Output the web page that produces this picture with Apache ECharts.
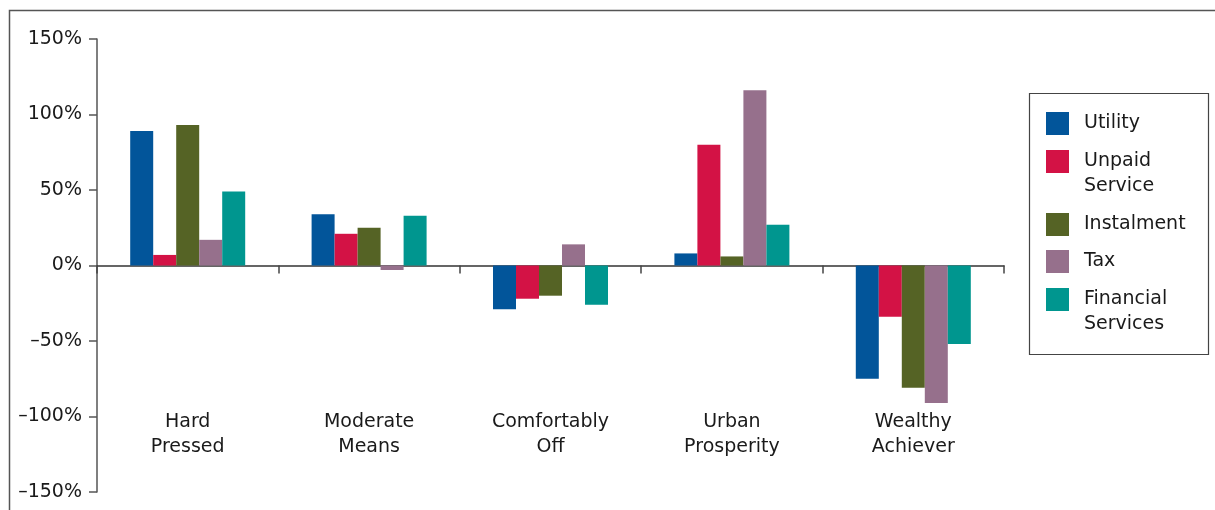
<!DOCTYPE html>
<html>
<head>
<meta charset="utf-8">
<script src="https://cdn.jsdelivr.net/npm/echarts@6/dist/echarts.min.js"></script>
<style>
  html, body { margin: 0; padding: 0; background: #fff; }
  #chart { width: 1215px; height: 510px; }
</style>
</head>
<body>
<div id="chart"></div>
<script>
var categories = ['Hard\nPressed', 'Moderate\nMeans', 'Comfortably\nOff', 'Urban\nProsperity', 'Wealthy\nAchiever'];
var seriesNames = ['Utility', 'Unpaid Service', 'Instalment', 'Tax', 'Financial Services'];
// leading blank line keeps the first text line level with the swatch
var legendLabels = ['Utility', '\nUnpaid\nService', 'Instalment', 'Tax', '\nFinancial\nServices'];
var colors = ['#02559a', '#d31245', '#556325', '#96708c', '#00968f'];

var utility = [89, 34, -29, 8, -75];
var unpaidService = [7, 21, -22, 80, -34];
var instalment = [93, 25, -20, 6, -81];
var tax = [17, -3, 14, 116, -91];
var financialServices = [49, 33, -26, 27, -52];

var seriesValues = [utility, unpaidService, instalment, tax, financialServices];
var legendTops = [111, 124, 212, 249, 262];

var chartDom = document.getElementById('chart');
var myChart = echarts.init(chartDom, null, { renderer: 'canvas' });

var font = 'DejaVu Sans, sans-serif';

var legends = seriesNames.map(function (name, i) {
  return {
    data: [name],
    orient: 'vertical',
    left: 1046,
    top: legendTops[i],
    padding: 0,
    itemWidth: 23,
    itemHeight: 23,
    icon: 'rect',
    selectedMode: false,
    formatter: function () { return legendLabels[i]; },
    textStyle: {
      fontFamily: font,
      fontSize: 19,
      lineHeight: 25,
      color: '#1a1a1a',
      padding: [0, 0, 0, 10]
    }
  };
});

var option = {
  animation: false,
  color: colors,
  backgroundColor: '#fff',
  legend: legends,
  graphic: [
    {
      type: 'polyline',
      shape: { points: [[9.5, 510], [9.5, 10.5], [1215, 10.5]] },
      style: { stroke: '#555', lineWidth: 1.5, fill: null }
    },
    {
      type: 'rect',
      shape: { x: 1029.5, y: 93.5, width: 179, height: 261 },
      style: { stroke: '#444', lineWidth: 1.2, fill: null }
    }
  ],
  grid: {
    left: 97,
    right: 211,
    top: 39,
    bottom: 18,
    containLabel: false,
    outerBoundsMode: 'none'
  },
  xAxis: {
    type: 'category',
    data: categories,
    axisLine: { onZero: true, lineStyle: { color: '#333', width: 1.5 } },
    axisTick: { show: true, length: 8, lineStyle: { color: '#444', width: 1.5 } },
    axisLabel: {
      margin: -82,
      fontFamily: font,
      fontSize: 19,
      lineHeight: 25,
      color: '#1a1a1a'
    }
  },
  yAxis: {
    type: 'value',
    min: -150,
    max: 150,
    interval: 50,
    splitLine: { show: false },
    axisLine: { show: true, lineStyle: { color: '#555', width: 1.5 } },
    axisTick: { show: true, length: 8, lineStyle: { color: '#555', width: 1.5 } },
    axisLabel: {
      margin: 15,
      fontFamily: font,
      fontSize: 19,
      color: '#1a1a1a',
      formatter: function (v) {
        return (v < 0 ? '\u2013' + Math.abs(v) : v) + '%';
      }
    }
  },
  series: seriesNames.map(function (name, i) {
    return {
      name: name,
      type: 'bar',
      barWidth: 23,
      barGap: '0%',
      data: seriesValues[i]
    };
  })
};

option && myChart.setOption(option);
</script>
</body>
</html>
